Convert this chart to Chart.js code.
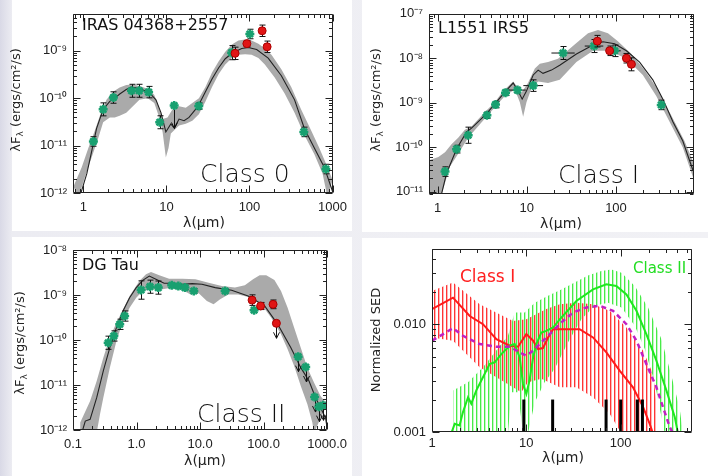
<!DOCTYPE html>
<html><head><meta charset="utf-8">
<script src="https://cdn.jsdelivr.net/npm/chart.js@4/dist/chart.umd.min.js"></script>
<style>
body{margin:0;width:708px;height:476px;position:relative;overflow:hidden;background:linear-gradient(90deg,#d9d9e6 0,#ececf2 12px,#f1f1f5 100%)}
.panel{position:absolute;background:#fff}
canvas{position:absolute}
</style></head><body>
<div class="panel" style="left:12px;top:0;width:340px;height:231px"></div>
<div class="panel" style="left:362px;top:0;width:346px;height:232px"></div>
<div class="panel" style="left:12px;top:237px;width:340px;height:239px"></div>
<div class="panel" style="left:362px;top:238px;width:346px;height:238px"></div>
<canvas id="c1" width="354" height="235" style="left:0;top:0"></canvas>
<canvas id="c2" width="354" height="235" style="left:354px;top:0"></canvas>
<canvas id="c3" width="354" height="241" style="left:0;top:235px"></canvas>
<canvas id="c4" width="354" height="241" style="left:354px;top:235px"></canvas>
<script>
// ---------- IRAS 04368+2557 (Class 0) ----------
const p1Model = [[0.91,8.6e-13],[1.10,2.56e-12],[1.26,7.6e-12],[1.44,2.27e-11],[1.73,5.78e-11],[2.08,8.53e-11],[2.39,1.0e-10],[2.74,1.22e-10],[3.28,1.52e-10],[3.77,1.72e-10],[4.73,1.59e-10],[6.23,1.30e-10],[7.48,9.2e-11],[8.59,4.94e-11],[9.84,1.94e-11],[11.3,2.87e-11],[12.4,2.34e-11],[14.2,3.62e-11],[16.3,3.35e-11],[18.7,3.92e-11],[22.4,5.78e-11],[25.7,8.53e-11],[29.5,1.36e-10],[35.4,2.54e-10],[42.6,4.38e-10],[51.1,6.78e-10],[61.4,8.83e-10],[80.7,1.11e-9],[96.9,1.17e-9],[122,1.06e-9],[168,6.99e-10],[242,2.97e-10],[349,9.2e-11],[459,2.27e-11],[604,8.9e-12],[795,3.5e-12],[955,1.37e-12],[1045,8.6e-13]];
const p1BandHi = [[0.76,1.37e-12],[0.955,3.5e-12],[1.148,8.9e-12],[1.377,2.1e-11],[1.58,4.23e-11],[1.897,9.2e-11],[2.278,1.36e-10],[2.735,1.67e-10],[3.283,1.89e-10],[3.945,1.95e-10],[4.955,1.77e-10],[6.231,1.52e-10],[7.145,1.16e-10],[8.053,6.75e-11],[8.991,3.62e-11],[10.3,3.92e-11],[11.8,5.78e-11],[14.2,6.75e-11],[17.1,6.25e-11],[20.5,7.89e-11],[24.6,1.0e-10],[29.5,1.72e-10],[35.4,3.47e-10],[42.6,5.98e-10],[51.1,9.54e-10],[61.4,1.35e-9],[73.6,1.65e-9],[88.5,1.73e-9],[106,1.65e-9],[128,1.41e-9],[153,1.11e-9],[184,8.17e-10],[242,4.05e-10],[318,1.72e-10],[419,5.78e-11],[551,2.1e-11],[693,8.9e-12],[871,3.5e-12],[1000,1.88e-12]];
const p1BandLo = [[0.871,8e-13],[1.047,2.19e-12],[1.257,5.58e-12],[1.509,1.42e-11],[1.73,3.1e-11],[2.08,3.92e-11],[2.385,3.92e-11],[2.735,4.23e-11],[3.283,4.94e-11],[3.945,6.75e-11],[4.733,9.2e-11],[5.953,1.0e-10],[7.145,7.89e-11],[8.053,4.23e-11],[8.991,1.94e-11],[9.84,5.58e-12],[10.6,8.9e-12],[11.3,1.8e-11],[12.4,2.1e-11],[14.2,2.65e-11],[17.1,2.87e-11],[20.5,3.35e-11],[24.6,4.57e-11],[29.5,8.53e-11],[35.4,1.72e-10],[42.6,3.21e-10],[51.1,5.12e-10],[61.4,6.99e-10],[73.6,8.17e-10],[88.5,8.43e-10],[106,8.17e-10],[128,6.99e-10],[153,5.12e-10],[201,2.74e-10],[265,1.26e-10],[349,4.94e-11],[459,1.66e-11],[604,6.53e-12],[759,2.56e-12],[871,8e-13]];
const p1GreenWave = [1.32, 1.73, 2.3, 3.8, 4.7, 6.1, 8.3, 12.4, 24.5, 61, 101, 451, 832];
const p1GreenFlux = [1.22e-11, 5.8e-11, 1.03e-10, 1.43e-10, 1.43e-10, 1.34e-10, 3.1e-11, 7.0e-11, 6.8e-11, 9.1e-10, 2.25e-9, 1.94e-11, 3.2e-12];
const p1GreenErr = [1.26, 1.37, 1.32, 1.37, 1.37, 1.32, 1.37, 0, 1.17, 1.41, 1.26, 1.26, 1.26];
const p1GreenLimit = [0, 0, 0, 0, 0, 0, 0, 1, 0, 0, 0, 0, 0];
const p1RedWave = [67, 93, 142, 163];
const p1RedFlux = [8.8e-10, 1.41e-9, 2.63e-9, 1.21e-9];
const p1RedErr = [1.35, 1.17, 1.32, 1.32];

// ---------- L1551 IRS5 (Class I) ----------
const p2Model = [[1.11,9.06e-12],[1.26,2.59e-11],[1.63,9.05e-11],[2.11,2.19e-10],[2.40,2.68e-10],[3.54,5.67e-10],[4.38,9.36e-10],[5.67,1.73e-9],[7.03,2.77e-9],[8.0,1.82e-9],[8.87,1.2e-9],[9.91,1.82e-9],[11.8,4.2e-9],[13.4,5.4e-9],[15.2,4.56e-9],[18.9,5.4e-9],[23.4,6.93e-9],[36.0,1.24e-8],[55.3,1.98e-8],[71.5,2.34e-8],[96.6,2.12e-8],[131,1.47e-8],[184,8.2e-9],[259,3.27e-9],[336,1.2e-9],[435,3.74e-10],[562,1.37e-10],[728,3.06e-11]];
const p2BandHi = [[0.80,5.05e-11],[1.02,5.96e-11],[1.21,7.66e-11],[1.43,1.16e-10],[1.70,1.62e-10],[2.02,2.46e-10],[2.40,2.91e-10],[3.39,6.17e-10],[4.38,1.02e-9],[5.43,1.82e-9],[7.03,3.01e-9],[8.0,2.15e-9],[8.71,1.68e-9],[10.3,2.77e-9],[12.3,5.86e-9],[14.0,7.53e-9],[17.3,8.19e-9],[22.4,9.68e-9],[34.4,2.05e-8],[48.6,3.67e-8],[62.9,4.34e-8],[81.3,3.67e-8],[105,2.42e-8],[149,1.24e-8],[209,5.4e-9],[295,1.98e-9],[416,5.22e-10],[587,1.37e-10],[747,4.27e-11]];
const p2BandLo = [[0.80,8.75e-12],[1.11,8.75e-12],[1.37,3.61e-11],[1.70,7.05e-11],[2.20,1.62e-10],[3.39,4.41e-10],[4.38,7.92e-10],[5.67,1.42e-9],[7.34,1.98e-9],[8.35,1.02e-9],[9.10,4.8e-10],[9.91,1.02e-9],[11.3,2.15e-9],[13.4,3.01e-9],[17.3,2.77e-9],[23.4,3.27e-9],[36.0,8.19e-9],[55.3,1.47e-8],[84.9,1.47e-8],[131,9.68e-9],[200,4.2e-9],[283,1.42e-9],[399,3.74e-10],[562,9.84e-11],[747,1.85e-11]];
const p2GreenWave = [1.21, 1.63, 2.2, 3.57, 4.46, 5.77, 7.86, 11.8, 25.5, 56.7, 96.6, 322];
const p2GreenFlux = [2.81e-11, 9.0e-11, 1.85e-10, 5.2e-10, 9.05e-10, 1.68e-9, 1.92e-9, 2.42e-9, 1.31e-8, 1.88e-8, 1.47e-8, 8.9e-10];
const p2GreenErr = [1.28, 1.22, 1.52, 1.18, 1.18, 1.15, 1.15, 1.35, 1.4, 1.4, 1.35, 1.28];
const p2GreenWaveErr = [1, 1, 1, 1, 1, 1.08, 1.24, 1.29, 1.35, 1.27, 1.17, 1];
const p2RedWave = [61.8, 84.9, 131, 149];
const p2RedFlux = [2.42e-8, 1.47e-8, 1.0e-8, 7.3e-9];
const p2RedErr = [1.35, 1.28, 1.28, 1.4];
const p2RedWaveErr = [1.11, 1.1, 1.11, 1.1];

// ---------- DG Tau (Class II) ----------
const p3Model = [[0.138,8.7e-13],[0.156,1.58e-12],[0.186,1.73e-12],[0.236,5.23e-12],[0.300,2.05e-11],[0.380,6.76e-11],[0.483,1.88e-10],[0.613,4.41e-10],[0.778,8.73e-10],[0.99,1.46e-9],[1.25,2.12e-9],[1.59,2.64e-9],[2.02,2.23e-9],[2.72,1.82e-9],[3.67,1.82e-9],[5.25,1.73e-9],[7.51,1.79e-9],[10.7,1.73e-9],[17.3,1.46e-9],[31.4,1.27e-9],[57.1,9.5e-10],[104,5.7e-10],[167,2.23e-10],[269,6.76e-11],[385,2.43e-11],[519,1.23e-11],[659,5.23e-12],[788,3.13e-12],[942,1.88e-12],[1000,1.13e-12]];
const p3BandHi = [[0.130,1.46e-12],[0.186,4.41e-12],[0.236,1.23e-11],[0.300,4.05e-11],[0.380,1.13e-10],[0.483,2.43e-10],[0.613,4.8e-10],[0.778,9.5e-10],[1.11,2.05e-9],[1.41,2.88e-9],[1.69,3.24e-9],[2.28,2.74e-9],[3.26,2.31e-9],[5.25,2.31e-9],[8.46,2.23e-9],[13.6,1.88e-9],[22.0,1.58e-9],[35.4,1.46e-9],[50.7,1.64e-9],[68.2,2.23e-9],[86.6,2.74e-9],[110,2.74e-9],[148,2.15e-9],[188,1.23e-9],[239,5.23e-10],[303,1.88e-10],[385,6.76e-11],[489,2.43e-11],[621,1.13e-11],[788,5.7e-12],[1000,3.72e-12]];
const p3BandLo = [[0.130,8.7e-13],[0.236,8.7e-13],[0.266,2.23e-12],[0.300,5.23e-12],[0.380,2.43e-11],[0.483,9.5e-11],[0.613,2.64e-10],[0.778,5.23e-10],[0.99,8.73e-10],[1.25,1.23e-9],[1.79,1.34e-9],[2.57,1.34e-9],[3.67,1.46e-9],[5.25,1.29e-9],[7.08,1.03e-9],[9.53,1.09e-9],[12.8,7.36e-10],[16.3,6.2e-10],[20.7,8.0e-10],[27.9,1.03e-9],[39.9,1.02e-9],[64.3,8.73e-10],[92,6.2e-10],[132,3.13e-10],[188,1.34e-10],[239,6.2e-11],[303,2.64e-11],[385,9.5e-12],[489,3.72e-12],[585,1.46e-12],[621,8.7e-13]];
const p3GreenWave = [0.358, 0.439, 0.544, 0.65, 1.18, 1.63, 2.2, 3.58, 4.55, 5.78, 7.97, 24.8, 70.8, 350, 460, 635, 741, 866];
const p3GreenFlux = [8.7e-11, 1.23e-10, 2.23e-10, 3.41e-10, 1.29e-9, 1.53e-9, 1.46e-9, 1.64e-9, 1.58e-9, 1.46e-9, 1.23e-9, 1.23e-9, 4.6e-10, 4.26e-11, 2.51e-11, 5.4e-12, 3.3e-12, 3.53e-12];
const p3GreenErr = [1.4, 1.3, 1.3, 1.3, 1.6, 1.4, 1.4, 1.1, 1.1, 1.1, 1.12, 1.1, 1.12, 0, 0, 0, 0, 0];
const p3GreenLimit = [0, 0, 0, 0, 0, 0, 0, 0, 0, 0, 0, 0, 0, 1, 1, 1, 1, 1];
const p3RedWave = [65.9, 89.8, 141, 159];
const p3RedFlux = [7.7e-10, 5.7e-10, 6.2e-10, 2.35e-10];
const p3RedErr = [1.31, 1.2, 1.25, 0];
const p3RedLimit = [0, 0, 0, 1];

// ---------- Normalized SEDs ----------
const p4Class1 = [[1.0,0.0138],[1.67,0.0176],[2.51,0.0119],[3.47,0.0100],[4.81,0.00727],[6.66,0.00631],[8.16,0.00618],[10.0,0.00809],[11.8,0.00702],[13.3,0.00588],[15.0,0.00600],[17.0,0.00753],[19.2,0.00899],[24.5,0.00899],[36.7,0.00899],[50.9,0.00753],[70.5,0.00547],[97.5,0.00371],[135,0.0026],[173,0.0017],[203,0.00119],[220,0.00097]];
const p4Class1Hi = [[1.0,0.0203],[1.67,0.0243],[3.20,0.0153],[7.22,0.0107],[10.0,0.0111],[16.3,0.0138],[22.6,0.0153],[33.9,0.0158],[50.9,0.0153],[76.4,0.0133],[115,0.00931],[173,0.00567],[220,0.00345],[239,0.00189],[249,0.00097]];
const p4Class1Lo = [[1.0,0.00753],[1.67,0.00702],[3.20,0.00398],[7.22,0.0026],[8.85,0.00234],[10.4,0.0029],[14.4,0.00311],[22.6,0.0026],[33.9,0.0026],[50.9,0.0021],[76.4,0.00148],[102,0.00097]];
const p4Class2 = [[1.60,0.00097],[1.74,0.00119],[1.96,0.00115],[2.13,0.00153],[2.41,0.0021],[2.61,0.00183],[2.95,0.00243],[3.47,0.00322],[4.08,0.00427],[4.62,0.00443],[5.43,0.00528],[6.66,0.00631],[7.52,0.00654],[8.50,0.00492],[9.22,0.00279],[10.0,0.00226],[10.8,0.003],[11.8,0.00492],[12.8,0.00654],[14.4,0.00838],[16.3,0.00867],[19.2,0.00931],[22.6,0.0111],[33.9,0.0164],[50.9,0.021],[70.5,0.0234],[89.9,0.0226],[115,0.0189],[147,0.0133],[187,0.00809],[239,0.00459],[305,0.00243],[374,0.00138],[405,0.00097]];
const p4Class2Hi = [[1.67,0.00243],[2.41,0.0029],[3.47,0.00398],[4.62,0.00547],[6.39,0.0078],[7.52,0.0128],[9.60,0.0128],[12.3,0.0158],[17.0,0.0183],[23.5,0.021],[32.5,0.0243],[45.0,0.0283],[62.4,0.0311],[79.6,0.0322],[102,0.03],[141,0.0226],[195,0.0143],[270,0.00727],[345,0.00333],[422,0.00164],[458,0.00097]];
const p4Class2Lo = [[1.67,0.00097],[6.39,0.00097],[6.93,0.00234],[8.16,0.00234],[9.22,0.00097],[10.4,0.00097],[12.3,0.00189],[15.6,0.0029],[19.9,0.00384],[27.7,0.00678],[38.3,0.0111],[53.0,0.0148],[73.4,0.0158],[102,0.0143],[141,0.00966],[180,0.00588],[229,0.0029],[293,0.00097]];
const p4Mean = [[1.0,0.00702],[1.67,0.00918],[2.13,0.0078],[3.20,0.00654],[4.81,0.00618],[6.66,0.00618],[8.50,0.00547],[10.0,0.0051],[11.8,0.00567],[13.8,0.00654],[16.3,0.00753],[20.8,0.00931],[24.5,0.0107],[31.2,0.0128],[43.3,0.0143],[59.9,0.0148],[82.9,0.0133],[115,0.01],[147,0.00702],[187,0.00427],[239,0.0026],[281,0.0017],[331,0.00111],[359,0.00097]];
const p4FilterWave = [9.4, 19, 70, 100, 150, 170];
const p4FilterTop = [0.002, 0.002, 0.002, 0.002, 0.002, 0.002];

// ---------- helpers ----------
const GREEN = '#18a070', RED = '#e01515', BAND = '#aaaaaa';
const TXT = "'DejaVu Sans', sans-serif", TICK = "'Liberation Sans', Arial, sans-serif";
const xy = arr => arr.map(([x, y]) => ({x, y}));
const zip = (xs, ys) => xs.map((x, i) => ({x, y: ys[i]}));
const isDecade = v => Math.abs(Math.log10(v) - Math.round(Math.log10(v))) < 1e-6;
const sup = s => s.replace(/[-0-9]/g, c => '⁻⁰¹²³⁴⁵⁶⁷⁸⁹'['-0123456789'.indexOf(c)]);
const powLabel = v => isDecade(v) ? '10' + sup(String(Math.round(Math.log10(v)))) : '';
const intLabel = v => isDecade(v) ? String(Math.round(v)) : '';

function logTicks(scale) {
  const out = [];
  const e0 = Math.floor(Math.log10(scale.min)), e1 = Math.ceil(Math.log10(scale.max));
  for (let e = e0; e <= e1; e++) {
    for (let m = 1; m < 10; m++) {
      const v = parseFloat((m * Math.pow(10, e)).toPrecision(6));
      if (v >= scale.min * 0.9999 && v <= scale.max * 1.0001) out.push({value: v});
    }
  }
  scale.ticks = out;
}

function band(hi, lo, color) {
  return {data: xy(hi.concat(lo.slice().reverse())), fill: 'shape', backgroundColor: color,
    borderColor: 'rgba(0,0,0,0)', borderWidth: 0, pointRadius: 0, order: 10};
}
function curve(arr, color, width, order, dash) {
  return {data: xy(arr), borderColor: color, borderWidth: width, borderDash: dash || [],
    pointRadius: 0, fill: false, order: order};
}
function greenPts(data, extra) {
  return Object.assign({data, showLine: false, pointStyle: 'star', pointRadius: 4.5,
    borderColor: GREEN, backgroundColor: GREEN, pointBorderWidth: 2.5, order: 2}, extra);
}
function redPts(data, extra) {
  return Object.assign({data, showLine: false, pointStyle: 'circle', pointRadius: 4,
    borderColor: '#a00', backgroundColor: RED, pointBorderWidth: 1, order: 1}, extra);
}

function decoPlugin(d) {
  return {
    id: 'deco',
    beforeDatasetDraw(chart, args) {
      const ds = chart.data.datasets[args.index];
      if (!ds.yErr && !ds.limit && !ds.xErr) return;
      const ctx = chart.ctx, a = chart.chartArea, xs = chart.scales.x, ys = chart.scales.y;
      ctx.save();
      ctx.beginPath(); ctx.rect(a.left, a.top, a.right - a.left, a.bottom - a.top); ctx.clip();
      ctx.strokeStyle = '#111'; ctx.lineWidth = 1;
      ds.data.forEach((p, i) => {
        const px = Math.round(xs.getPixelForValue(p.x)) + 0.5, py = ys.getPixelForValue(p.y);
        ctx.beginPath();
        if (ds.limit && ds.limit[i]) {
          const L = d.arrow;
          ctx.moveTo(px, py); ctx.lineTo(px, py + L);
          ctx.moveTo(px - 3, py + L - 6); ctx.lineTo(px, py + L); ctx.lineTo(px + 3, py + L - 6);
        } else if (ds.yErr && ds.yErr[i] > 1) {
          const y1 = ys.getPixelForValue(p.y * ds.yErr[i]), y2 = ys.getPixelForValue(p.y / ds.yErr[i]);
          ctx.moveTo(px, y1); ctx.lineTo(px, y2);
          ctx.moveTo(px - 3, y1); ctx.lineTo(px + 3, y1);
          ctx.moveTo(px - 3, y2); ctx.lineTo(px + 3, y2);
        }
        if (ds.xErr && ds.xErr[i] > 1) {
          ctx.moveTo(xs.getPixelForValue(p.x / ds.xErr[i]), py);
          ctx.lineTo(xs.getPixelForValue(p.x * ds.xErr[i]), py);
        }
        ctx.stroke();
      });
      ctx.restore();
    },
    afterDraw(chart) {
      const ctx = chart.ctx, a = chart.chartArea, xs = chart.scales.x, ys = chart.scales.y;
      ctx.save();
      // filter bars
      if (d.filters) {
        ctx.strokeStyle = '#000'; ctx.lineWidth = 3;
        d.filters.wave.forEach((w, i) => {
          const px = xs.getPixelForValue(w);
          ctx.beginPath();
          ctx.moveTo(px, ys.getPixelForValue(ys.min)); ctx.lineTo(px, ys.getPixelForValue(d.filters.top[i]));
          ctx.stroke();
        });
      }
      // frame with inward ticks
      ctx.strokeStyle = '#222'; ctx.lineWidth = 1;
      ctx.beginPath();
      const L = Math.round(a.left) + 0.5, R = Math.round(a.right) - 0.5, T = Math.round(a.top) + 0.5, B = Math.round(a.bottom) - 0.5;
      ctx.rect(L, T, R - L, B - T);
      xs.ticks.forEach(t => {
        const len = isDecade(t.value) ? 7 : 3.5, p = Math.round(xs.getPixelForValue(t.value)) + 0.5;
        ctx.moveTo(p, B); ctx.lineTo(p, B - len); ctx.moveTo(p, T); ctx.lineTo(p, T + len);
      });
      ys.ticks.forEach(t => {
        const len = isDecade(t.value) ? 7 : 3.5, p = Math.round(ys.getPixelForValue(t.value)) + 0.5;
        ctx.moveTo(L, p); ctx.lineTo(L + len, p); ctx.moveTo(R, p); ctx.lineTo(R - len, p);
      });
      ctx.stroke();
      // texts
      ctx.textBaseline = 'alphabetic'; ctx.textAlign = 'left';
      d.texts.forEach(t => {
        ctx.fillStyle = t.color || '#111';
        ctx.font = (t.weight || 'normal') + ' ' + t.size + 'px ' + TXT;
        ctx.fillText(t.text, t.x, t.y);
      });
      // x title
      ctx.fillStyle = '#222'; ctx.textAlign = 'center'; ctx.textBaseline = 'middle';
      ctx.font = '14px ' + TXT;
      ctx.fillText('λ(μm)', d.xTitle[0], d.xTitle[1]);
      // y title (rotated, with subscript)
      ctx.translate(d.yTitle[0], d.yTitle[1]);
      ctx.rotate(-Math.PI / 2);
      ctx.textAlign = 'left';
      if (d.sedTitle) {
        const big = '13px ' + TXT, small = '9px ' + TXT;
        ctx.font = big; const w1 = ctx.measureText('λF').width, w3 = ctx.measureText(' (ergs/cm²/s)').width;
        ctx.font = small; const w2 = ctx.measureText('λ').width;
        let x = -(w1 + w2 + w3) / 2;
        ctx.font = big; ctx.fillText('λF', x, 0); x += w1;
        ctx.font = small; ctx.fillText('λ', x, 4); x += w2;
        ctx.font = big; ctx.fillText(' (ergs/cm²/s)', x, 0);
      } else {
        ctx.font = '13px ' + TXT; ctx.textAlign = 'center';
        ctx.fillText(d.yText, 0, 0);
      }
      ctx.restore();
    }
  };
}

function sedChart(id, o) {
  const c = document.getElementById(id);
  return new Chart(c, {
    type: 'line',
    data: {datasets: o.datasets},
    options: {
      responsive: false, animation: false, events: [],
      layout: {padding: {top: o.area[1], right: c.width - o.area[2], left: 0, bottom: 0}},
      plugins: {legend: {display: false}, tooltip: {enabled: false}},
      scales: {
        x: {type: 'logarithmic', min: o.x[0], max: o.x[1], bounds: 'data',
          afterBuildTicks: logTicks, afterFit: s => { s.height = c.height - o.area[3]; },
          grid: {display: false, drawTicks: false}, border: {display: false},
          ticks: {autoSkip: false, maxRotation: 0, minRotation: 0, padding: o.xPad, color: '#222',
            font: {family: TICK, size: 13}, callback: o.xLabel}},
        y: {type: 'logarithmic', min: o.y[0], max: o.y[1], bounds: 'data',
          afterBuildTicks: logTicks, afterFit: s => { s.width = o.area[0]; },
          grid: {display: false, drawTicks: false}, border: {display: false},
          ticks: {autoSkip: false, padding: 6, color: '#222',
            font: {family: TICK, size: 13}, callback: o.yLabel}}
      }
    },
    plugins: [decoPlugin(o.deco)]
  });
}

// ---------- panel 1 ----------
sedChart('c1', {
  area: [73, 7, 335, 193], x: [0.75, 1000], y: [1e-12, 6e-9], xPad: 7,
  xLabel: intLabel, yLabel: powLabel,
  datasets: [
    band(p1BandHi, p1BandLo, BAND),
    curve(p1Model, '#222', 1.1, 5),
    greenPts(zip(p1GreenWave, p1GreenFlux), {yErr: p1GreenErr, limit: p1GreenLimit}),
    redPts(zip(p1RedWave, p1RedFlux), {yErr: p1RedErr})
  ],
  deco: {arrow: 23, sedTitle: true, yTitle: [17, 100], xTitle: [204, 223],
    texts: [{text: 'IRAS 04368+2557', x: 82, y: 30, size: 16},
            {text: 'Class 0', x: 200, y: 182, size: 25, weight: 200}]}
});

// ---------- panel 2 ----------
sedChart('c2', {
  area: [75, 7, 340, 194], x: [0.8, 750], y: [8.8e-12, 1e-7], xPad: 7,
  xLabel: intLabel, yLabel: powLabel,
  datasets: [
    band(p2BandHi, p2BandLo, BAND),
    curve(p2Model, '#222', 1.1, 5),
    greenPts(zip(p2GreenWave, p2GreenFlux), {yErr: p2GreenErr, xErr: p2GreenWaveErr}),
    redPts(zip(p2RedWave, p2RedFlux), {yErr: p2RedErr, xErr: p2RedWaveErr})
  ],
  deco: {arrow: 14, sedTitle: true, yTitle: [23, 100], xTitle: [207, 224],
    texts: [{text: 'L1551 IRS5', x: 84, y: 33, size: 16},
            {text: 'Class I', x: 204, y: 183, size: 25, weight: 200}]}
});

// ---------- panel 3 ----------
sedChart('c3', {
  area: [73, 15, 330, 195], x: [0.1, 1000], y: [1e-12, 1e-8], xPad: 7,
  xLabel: v => isDecade(v) ? v.toFixed(1) : '', yLabel: powLabel,
  datasets: [
    band(p3BandHi, p3BandLo, BAND),
    curve(p3Model, '#222', 1.1, 5),
    greenPts(zip(p3GreenWave, p3GreenFlux), {yErr: p3GreenErr, limit: p3GreenLimit}),
    redPts(zip(p3RedWave, p3RedFlux), {yErr: p3RedErr, limit: p3RedLimit})
  ],
  deco: {arrow: 15, sedTitle: true, yTitle: [21, 108], xTitle: [205, 226],
    texts: [{text: 'DG Tau', x: 82, y: 35, size: 16},
            {text: 'Class II', x: 197, y: 187, size: 25, weight: 200}]}
});

// ---------- panel 4 ----------
const ctx4 = document.getElementById('c4').getContext('2d');
// vertical hatch: 4px period, red on columns 0-1, green on columns 2-3 so they interleave
function stripes(main, light, col) {
  const t = document.createElement('canvas'); t.width = 4; t.height = 2;
  const g = t.getContext('2d');
  g.fillStyle = main; g.fillRect(col, 0, 1, 2);
  g.fillStyle = light; g.fillRect(col + 1, 0, 1, 2);
  return ctx4.createPattern(t, 'repeat');
}
sedChart('c4', {
  area: [78, 13, 338, 197], x: [1, 570], y: [0.001, 0.05], xPad: 4,
  xLabel: intLabel, yLabel: v => isDecade(v) ? v.toFixed(3) : '',
  datasets: [
    Object.assign(band(p4Class1Hi, p4Class1Lo, stripes('#ff3535', 'rgba(255,130,130,0.6)', 0)), {order: 12}),
    Object.assign(band(p4Class2Hi, p4Class2Lo, stripes('#48ea48', 'rgba(150,245,150,0.6)', 2)), {order: 11}),
    curve(p4Class1, '#ff1a1a', 2, 5),
    curve(p4Class2, '#1ee81e', 2, 4),
    curve(p4Mean, '#c21fc2', 2.5, 3, [5, 4])
  ],
  deco: {sedTitle: false, yText: 'Normalized SED', yTitle: [23, 105], xTitle: [209, 223],
    filters: {wave: p4FilterWave, top: p4FilterTop},
    texts: [{text: 'Class I', x: 106, y: 47, size: 17, color: '#ff2020'},
            {text: 'Class II', x: 279, y: 38, size: 15, color: '#22dd22'}]}
});
</script>
</body></html>
